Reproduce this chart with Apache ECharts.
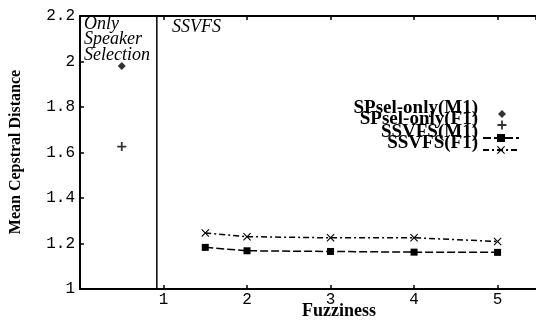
<!DOCTYPE html>
<html>
<head>
<meta charset="utf-8">
<script src="https://cdn.jsdelivr.net/npm/echarts@6/dist/echarts.min.js"></script>
<style>html,body{margin:0;padding:0;background:#fff}#c{width:536px;height:320px}</style>
</head>
<body>
<div id="c"></div>
<script>
const fuzziness = [1.5, 2, 3, 4, 5];
const ssvfsM1 = [1.183, 1.168, 1.165, 1.162, 1.161];
const ssvfsF1 = [1.246, 1.230, 1.225, 1.225, 1.209];
const spselX = 0.5;
const spselM1 = 1.98;
const spselF1 = 1.626;
const dividerX = 0.92;
const xTickLabels = ['1', '2', '3', '4', '5'];
const seriesNames = ['SPsel-only(M1)', 'SPsel-only(F1)', 'SSVFS(M1)', 'SSVFS(F1)'];
const regionLabels = ['Only\nSpeaker\nSelection', 'SSVFS'];
const xTitle = 'Fuzziness';
const yTitle = 'Mean Cepstral Distance';

const PLUS = 'path://M4,0H6V4H10V6H6V10H4V6H0V4H4Z';
const CROSS = 'path://M0,1L1,0L5,4L9,0L10,1L6,5L10,9L9,10L5,6L1,10L0,9L4,5Z';
const serif = '"Liberation Serif", "DejaVu Serif", serif';
const mono = '"Liberation Mono", "DejaVu Sans Mono", monospace';

const chart = echarts.init(document.getElementById('c'));
// legend icons (text drawn alongside as graphic text)
const iconCenters = [114, 125, 138, 150];
const iconW = [8, 9, 36, 36];
const iconH = [8, 9, 10, 10];
const legends = seriesNames.map((n, i) => ({
  data: [n], right: i < 2 ? 536 - 502 - iconW[i] / 2 : 16, top: iconCenters[i] - iconH[i] / 2,
  orient: 'vertical', align: 'right', itemWidth: iconW[i], itemHeight: iconH[i], padding: 0,
  formatter: () => '', textStyle: {fontSize: 1}
}));
const textCenters = [108, 119, 132, 143];
const legendTexts = seriesNames.map((n, i) => ({
  type: 'text', x: 478, y: textCenters[i],
  style: {text: n, font: 'bold 19px ' + serif, fill: '#000', align: 'right', verticalAlign: 'middle'}
}));

chart.setOption({
  animation: false,
  backgroundColor: '#fff',
  grid: {left: 80, right: 0, top: 16, bottom: 31},
  legend: legends,
  xAxis: [{
    type: 'value', min: 0, max: 5.46, interval: 1, position: 'bottom',
    axisLine: {show: true, lineStyle: {color: '#000', width: 2}},
    axisTick: {show: true, inside: true, length: 4, lineStyle: {color: '#000', width: 1.5}},
    axisLabel: {showMaxLabel: false, margin: 3, fontFamily: mono, fontSize: 16, color: '#000',
      formatter: v => (v >= 1 && v <= 5) ? xTickLabels[Math.round(v) - 1] : ''},
    splitLine: {show: false}
  }, {
    type: 'value', min: 0, max: 5.46, interval: 1, position: 'top',
    axisLine: {show: true, lineStyle: {color: '#000', width: 2}},
    axisTick: {show: true, inside: true, length: 4, lineStyle: {color: '#000', width: 1.5}},
    axisLabel: {show: false}, splitLine: {show: false}
  }],
  yAxis: {
    type: 'value', min: 1, max: 2.2, interval: 0.2,
    axisLine: {show: true, lineStyle: {color: '#000', width: 2}},
    axisTick: {show: true, inside: true, length: 4, lineStyle: {color: '#000', width: 1.5}},
    axisLabel: {margin: 5, fontFamily: mono, fontSize: 16, color: '#000'},
    splitLine: {show: false}
  },
  graphic: [
    {type: 'text', left: 84, top: 15, style: {text: regionLabels[0], font: 'italic 18px ' + serif, lineHeight: 15.5, fill: '#000'}},
    {type: 'text', left: 172, top: 18, style: {text: regionLabels[1], font: 'italic 18px ' + serif, fill: '#000'}},
    {type: 'text', x: 339, y: 311, style: {text: xTitle, font: 'bold 18px ' + serif, fill: '#000', align: 'center', verticalAlign: 'middle'}},
    {type: 'text', x: 16, y: 152, rotation: Math.PI / 2, style: {text: yTitle, font: 'bold 16px ' + serif, fill: '#000', align: 'center', verticalAlign: 'middle'}}
  ].concat(legendTexts),
  series: [
    {name: seriesNames[0], type: 'scatter', data: [[spselX, spselM1]], symbol: 'diamond', symbolSize: 8, itemStyle: {color: '#000'}},
    {name: seriesNames[1], type: 'scatter', data: [[spselX, spselF1]], symbol: PLUS, symbolSize: 9, itemStyle: {color: '#000'}},
    {name: seriesNames[2], type: 'line', data: fuzziness.map((x, i) => [x, ssvfsM1[i]]), symbol: 'rect', symbolSize: 7,
      itemStyle: {color: '#000'}, lineStyle: {color: '#000', width: 1.5, type: [8, 3]}},
    {name: seriesNames[3], type: 'line', data: fuzziness.map((x, i) => [x, ssvfsF1[i]]), symbol: CROSS, symbolSize: 8,
      itemStyle: {color: '#000'}, lineStyle: {color: '#000', width: 1.5, type: [6, 3, 2, 3]}},
    {type: 'line', data: [[dividerX, 1], [dividerX, 2.2]], symbol: 'none', silent: true,
      lineStyle: {color: '#000', width: 1.5}}
  ]
});
</script>
</body>
</html>
